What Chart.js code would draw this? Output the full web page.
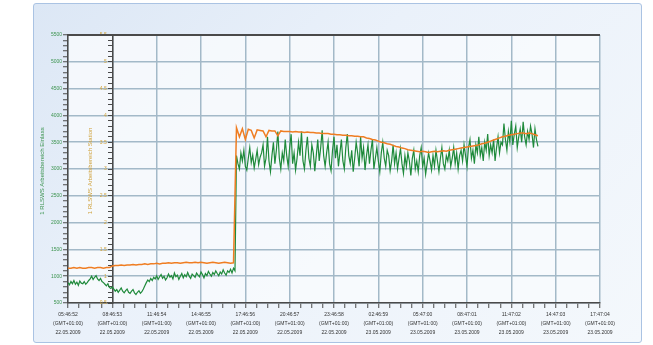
<!DOCTYPE html>
<html>
<head>
<meta charset="utf-8">
<script src="https://cdn.jsdelivr.net/npm/chart.js@4.4.1/dist/chart.umd.min.js"></script>
<style>
  html, body { margin: 0; padding: 0; background: #ffffff; }
  #wrap { position: relative; width: 653px; height: 345px; overflow: hidden; }
  #box { position: absolute; left: 33px; top: 3px; width: 607px; height: 338px;
         border: 1px solid #aac3e3; border-radius: 3px;
         background: linear-gradient(135deg, #dce7f5 0%, #eaf1fa 40%, #f4f8fc 100%); }
  #c { position: absolute; left: 0; top: 0; }
</style>
</head>
<body>
<div id="wrap">
  <div id="box"></div>
  <canvas id="c" width="653" height="345"></canvas>
</div>
<script>
// ---- data ----
const xTimes = ['05:46:52','08:46:53','11:46:54','14:46:55','17:46:56','20:46:57','23:46:58',
                '02:46:59','05:47:00','08:47:01','11:47:02','14:47:03','17:47:04'];
const xZone = '(GMT+01:00)';
const xDates = ['22.05.2009','22.05.2009','22.05.2009','22.05.2009','22.05.2009','22.05.2009','22.05.2009',
                '23.05.2009','23.05.2009','23.05.2009','23.05.2009','23.05.2009','23.05.2009'];
const GREEN_SAMPLE_HOURS = 0.1;   // spacing of green readings, hours since 05:46:52
const ORANGE_SAMPLE_HOURS = 0.2;  // spacing of orange readings
const greenTitle = '1 RLSWS Arbeitsbereich Einlass';
const orangeTitle = '1 RLSWS Arbeitsbereich Station';

const greenValues = [
  880,840,900,860,920,850,890,830,910,870,860,900,850,880,920,
  950,1000,940,980,1010,950,920,960,900,880,
  850,820,860,790,770,800,
  760,720,750,700,740,780,720,690,730,760,700,680,720,750,690,660,700,730,680,710,
  760,820,880,930,900,960,
  920,980,950,1010,940,990,1030,960,1000,930,
  970,1040,980,1010,950,1060,990,1020,940,1000,
  1050,970,1030,990,1070,1000,960,1040,1010,980,
  1060,1020,990,1080,1030,970,1050,1010,1090,1040,
  1000,1070,1030,1100,1050,1010,1080,1040,1120,1060,
  1020,1100,1070,1130,1060,1150,1100,
  3250,3100,3000,3300,3150,3350,3050,2980,3200,3400,3120,3260,3020,3180,3350,3080,3220,
  3300,3450,3050,3200,3600,3150,2950,3250,3500,3100,
  3350,3700,3200,3000,3300,3150,3550,3250,3050,3400,
  3650,3100,3300,2980,3200,3500,3250,3700,3150,3000,
  3350,3600,3200,3050,3450,3300,2960,3250,3550,3150,
  3400,3720,3250,3050,3300,3500,3100,2970,3350,3600,
  3200,3450,3050,3300,
  3550,3150,3000,3400,3650,3250,3100,3350,2950,3200,
  3500,3300,3050,3600,3200,3400,2980,3250,3450,3100,
  3350,3550,3000,3200,3400,3150,2950,3300,3500,3200,
  3050,3350,3250,2970,3150,3450,3100,3300,3000,3200,
  3380,
  3100,2920,3250,3050,3300,3150,2880,3200,3350,3000,
  3150,2950,3250,3400,3050,3200,2900,3100,3300,3150,
  2980,3250,3050,3350,3150,2950,3200,3400,3100,3000,
  3250,3150,3350,3050,3200,3400,3100,3300,3000,3250,
  3350,
  3150,3450,3250,3050,3400,3550,3200,3350,3100,3450,
  3300,3600,3250,3400,3150,3500,3350,3650,3250,3450,
  3300,3550,3150,3400,3600,3300,3500,
  3450,3850,3550,3350,3700,3500,3900,3450,3650,3800,
  3400,3600,3750,3500,3880,3600,3450,3700,3550,3800,
  3650,3400,3750,3550,3420
];
const orangeValues = [
  1.15,1.15,1.16,1.15,1.16,1.15,1.15,1.16,1.16,1.15,1.16,1.16,1.15,1.16,1.16,
  1.19,1.20,1.20,1.21,1.20,1.21,1.21,1.22,1.21,1.22,
  1.22,1.23,1.22,1.23,1.23,1.24,1.23,1.24,1.24,1.25,
  1.24,1.25,1.25,1.24,1.25,1.26,1.25,1.25,1.26,1.25,
  1.26,1.25,1.24,1.25,1.26,1.25,1.24,1.25,1.26,1.25,
  1.24,1.25,
  3.77,3.60,3.75,3.55,3.74,3.72,3.58,3.73,
  3.72,3.71,3.60,3.72,3.71,3.71,3.62,3.71,3.70,3.70,3.70,3.69,3.70,3.69,3.69,3.68,3.69,3.68,3.68,3.67,3.67,3.66,3.66,
  3.66,3.65,3.65,3.64,3.64,3.63,3.63,3.62,3.62,3.61,3.61,3.60,3.60,
  3.58,3.57,3.55,3.54,3.52,3.50,3.49,3.47,3.46,3.44,3.42,3.41,3.39,3.38,3.36,3.35,
  3.34,3.33,3.32,3.33,3.32,3.31,3.32,3.33,3.32,3.33,3.34,3.33,3.35,
  3.36,3.37,3.38,3.39,3.40,3.41,3.42,3.43,3.44,3.45,3.47,3.48,3.50,
  3.52,3.54,3.56,3.58,3.60,3.61,3.63,3.64,3.65,3.66,3.67,3.67,3.66,3.67,3.66,3.64,3.62
];

// ---- chart ----
const GRID = '#a3b9c8';
const AXIS = '#4a4a4a';
const FONT = 'Liberation Sans';
const toPoints = (vals, step) => vals.map((v, i) => ({ x: i * step, y: v }));
const isMajor = (v, step) => Math.abs(v / step - Math.round(v / step)) < 1e-6;

const deco = {
  id: 'deco',
  beforeDraw(chart) {
    const { ctx, chartArea: a } = chart;
    ctx.save();
    ctx.fillStyle = 'rgba(248,250,253,0.85)';
    ctx.fillRect(a.left, a.top, a.right - a.left, a.bottom - a.top);
    ctx.restore();
  },
  afterDraw(chart) {
    const { ctx, chartArea: a } = chart;
    ctx.save();
    ctx.strokeStyle = AXIS;
    ctx.lineWidth = 2;
    ctx.beginPath();
    ctx.moveTo(a.left, a.top); ctx.lineTo(a.right, a.top);
    ctx.stroke();
    ctx.restore();
    const cy = (a.top + a.bottom) / 2 + 2;
    [[greenTitle, 42, '#3d9450'], [orangeTitle, 90, '#cfa23c']].forEach(([t, x, col]) => {
      ctx.save();
      ctx.font = '6px ' + FONT;
      ctx.textAlign = 'center';
      ctx.textBaseline = 'middle';
      ctx.translate(x, cy); ctx.rotate(-Math.PI / 2);
      ctx.fillStyle = col;
      ctx.fillText(t, 0, 0);
      ctx.restore();
    });
  }
};

new Chart(document.getElementById('c'), {
  type: 'line',
  data: {
    datasets: [
      { label: 'orange', data: toPoints(orangeValues, ORANGE_SAMPLE_HOURS), yAxisID: 'y2',
        borderColor: '#ef7d22', borderWidth: 1.5, pointRadius: 0, tension: 0 },
      { label: 'green', data: toPoints(greenValues, GREEN_SAMPLE_HOURS), yAxisID: 'y',
        borderColor: '#1f8a3b', borderWidth: 1.2, pointRadius: 0, tension: 0 }
    ]
  },
  options: {
    responsive: false,
    animation: false,
    layout: { padding: { left: 0, right: 53, top: 35, bottom: 0 } },
    plugins: { legend: { display: false }, tooltip: { enabled: false } },
    scales: {
      x: {
        type: 'linear', min: 0, max: 36,
        afterFit(s) { s.height = 42; },
        afterBuildTicks(s) { s.ticks = []; for (let k = 0; k <= 48; k++) s.ticks.push({ value: k * 0.75 }); },
        ticks: {
          autoSkip: false, maxRotation: 0, padding: 2, color: '#333',
          font: { family: FONT, size: 5, lineHeight: 1.8 },
          callback(v) {
            if (!isMajor(v, 3)) return '';
            const k = Math.round(v / 3);
            return [xTimes[k], xZone, xDates[k]];
          }
        },
        grid: {
          color: c => (c.tick && isMajor(c.tick.value, 3)) ? GRID : 'rgba(0,0,0,0)',
          lineWidth: 1.5, tickLength: 5, tickColor: AXIS, tickWidth: 1
        },
        border: { display: true, color: AXIS, width: 1.5 }
      },
      y: {
        type: 'linear', position: 'left', min: 500, max: 5500,
        afterFit(s) { s.width = 68; },
        afterBuildTicks(s) { s.ticks = []; for (let v = 500; v <= 5500; v += 100) s.ticks.push({ value: v }); },
        ticks: {
          autoSkip: false, padding: 1, color: '#3d9450',
          font: { family: FONT, size: 5 },
          callback(v) { return isMajor(v, 500) ? String(v) : ''; }
        },
        grid: {
          color: c => (c.tick && isMajor(c.tick.value, 500)) ? GRID : 'rgba(0,0,0,0)',
          lineWidth: 1.5, tickLength: 5, tickColor: AXIS, tickWidth: 1
        },
        border: { display: true, color: AXIS, width: 1.5 }
      },
      y2: {
        type: 'linear', position: { x: 3 }, min: 0.5, max: 5.5,
        afterBuildTicks(s) { s.ticks = []; for (let k = 5; k <= 55; k++) s.ticks.push({ value: k / 10 }); },
        ticks: {
          autoSkip: false, color: '#cfa23c',
          font: { family: FONT, size: 5 },
          callback(v) { return isMajor(v, 0.5) ? String(Math.round(v * 10) / 10) + '    ' : ''; }
        },
        grid: { drawOnChartArea: false, drawTicks: true, tickLength: 4, tickColor: AXIS, tickWidth: 1 },
        border: { display: true, color: AXIS, width: 1.5 }
      }
    }
  },
  plugins: [deco]
});
</script>
</body>
</html>
